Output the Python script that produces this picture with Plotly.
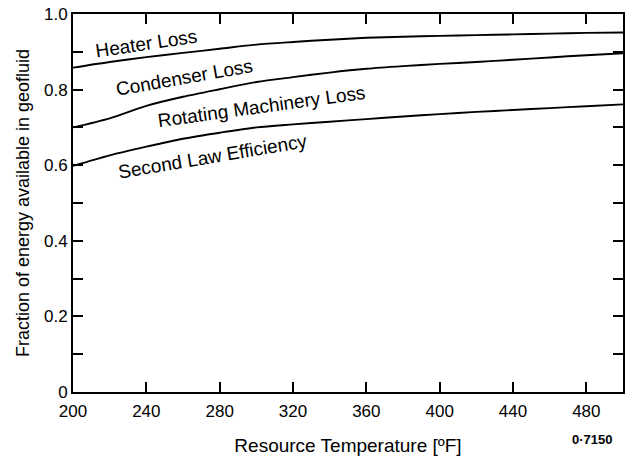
import plotly.graph_objects as go

# Resource temperature (°F)
temperature = [200, 220, 240, 260, 280, 300, 320, 340, 360, 380, 400, 420, 440, 460, 480, 500]

# Cumulative boundaries (fraction of energy available in geofluid)
heater_loss_top = [0.858, 0.873, 0.886, 0.897, 0.908, 0.919, 0.926, 0.932, 0.937, 0.940, 0.942, 0.944, 0.946, 0.948, 0.950, 0.951]
condenser_loss_bottom = [0.700, 0.724, 0.757, 0.781, 0.801, 0.820, 0.833, 0.845, 0.855, 0.862, 0.868, 0.873, 0.879, 0.885, 0.891, 0.896]
second_law_efficiency = [0.598, 0.626, 0.649, 0.670, 0.686, 0.700, 0.708, 0.715, 0.722, 0.729, 0.735, 0.741, 0.746, 0.751, 0.756, 0.761]

x_tick_values = [200, 240, 280, 320, 360, 400, 440, 480]
y_tick_values = [0, 0.2, 0.4, 0.6, 0.8, 1.0]
y_tick_labels = ["0", "0.2", "0.4", "0.6", "0.8", "1.0"]

# Region labels: text, x, y, angle
region_labels = ["Heater Loss", "Condenser Loss", "Rotating Machinery Loss", "Second Law Efficiency"]
label_x = [240, 260.5, 303, 276]
label_y = [0.923, 0.833, 0.754, 0.624]
label_angle = [-8.5, -10, -7.8, -9.5]

FONT = "Liberation Sans, Arial, Helvetica, sans-serif"

fig = go.Figure()
for series in (heater_loss_top, condenser_loss_bottom, second_law_efficiency):
    fig.add_trace(go.Scatter(
        x=temperature, y=series, mode="lines",
        line=dict(color="black", width=1.9, shape="spline", smoothing=0.8),
        showlegend=False, hoverinfo="skip",
    ))

for text, lx, ly, ang in zip(region_labels, label_x, label_y, label_angle):
    fig.add_annotation(
        x=lx, y=ly, xref="x", yref="y", text=text, showarrow=False,
        textangle=ang, font=dict(family=FONT, size=19, color="black"),
    )

# drawing number below the plot, right side
fig.add_annotation(
    x=(594 - 73) / (629 - 73 - 4), y=-(439 - 392) / (466 - 14 - 74),
    xref="paper", yref="paper", text="<b>0·7150</b>", showarrow=False,
    xanchor="center", yanchor="middle",
    font=dict(family=FONT, size=13, color="black"),
)

fig.update_layout(
    width=629, height=466,
    margin=dict(l=73, r=4, t=14, b=74),
    paper_bgcolor="white", plot_bgcolor="white",
    font=dict(family=FONT, color="black"),
    xaxis=dict(
        range=[200, 500], tickvals=x_tick_values, ticks="inside", ticklen=10,
        tickwidth=1.5, tickcolor="black", showline=True, linecolor="black",
        linewidth=1.8, mirror="ticks", showgrid=False, zeroline=False,
        tickfont=dict(size=17), ticklabelstandoff=3,
        title=dict(text="Resource Temperature [ºF]", font=dict(size=19), standoff=18),
    ),
    yaxis=dict(
        range=[0, 1.0], tickvals=y_tick_values, ticktext=y_tick_labels,
        ticks="inside", ticklen=10, tickwidth=1.5, tickcolor="black",
        showline=True, linecolor="black", linewidth=1.8, mirror="ticks",
        showgrid=False, zeroline=False, tickfont=dict(size=17),
        minor=dict(dtick=0.1, tick0=0, ticks="inside", ticklen=10, tickwidth=1.5, tickcolor="black"),
        title=dict(text="Fraction of energy available in geofluid", font=dict(size=18), standoff=10),
    ),
)

fig.write_html("out.html")
